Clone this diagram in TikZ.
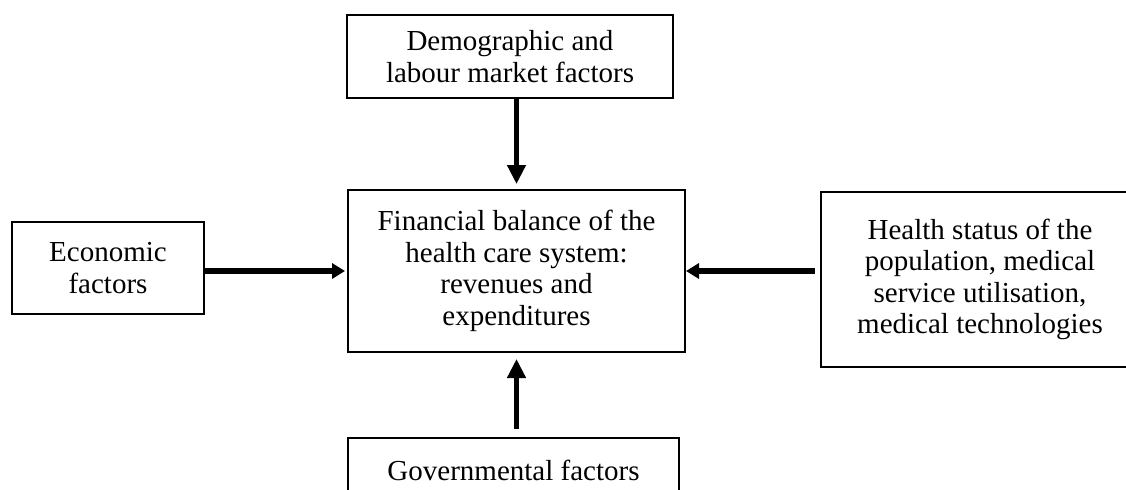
\documentclass[tikz,border=0pt]{standalone}
\usepackage{fontspec}
\setmainfont{Liberation Serif}
\usetikzlibrary{arrows.meta}

\begin{document}
\begin{tikzpicture}[x=0.5pt, y=-0.5pt,
		factorbox/.style={draw, line width=1pt, align=center, inner sep=0pt,
			font=\fontsize{14.5}{15.8}\selectfont},
		thinarrow/.style={line width=2.2pt, -{Triangle[length=9.5pt, width=9pt]}},
		thickarrow/.style={line width=3pt, -{Triangle[length=6.5pt, width=7.5pt]}}]
		
		% Frame of the picture
		\path[use as bounding box, clip] (0,0) rectangle (1126,489);
		
		% Central box
		\node[factorbox, minimum width=168.5pt, minimum height=81pt] (balance) at (516.5,271)
			{Financial balance of the\\ health care system:\\ revenues and\\ expenditures};
		
		% Factor boxes round it
		\node[factorbox, minimum width=163pt, minimum height=41.5pt] (demo) at (510,56.5)
			{Demographic and\\ labour market factors};
		\node[factorbox, minimum width=96pt, minimum height=46pt] (econ) at (108,268)
			{Economic\\ factors};
		\node[factorbox, minimum width=159pt, minimum height=87.5pt] (health) at (980,279.5)
			{Health status of the\\ population, medical\\ service utilisation,\\ medical technologies};
		\node[factorbox, minimum width=165.5pt, minimum height=32pt] (gov) at (513.5,470)
			{Governmental factors};
		
		% Ends of the arrows
		\coordinate (demobot) at (demo.south -| balance.center);
		\coordinate (govtop) at (gov.north -| balance.center);
		\coordinate (econout) at (econ.east |- balance.west);
		\coordinate (healthin) at (health.west |- balance.east);
		
		% Arrows into the central box
		\draw[thinarrow] (demobot) -- ([yshift=2.5pt]balance.north);
		\draw[thinarrow] ([yshift=4pt]govtop) -- ([yshift=-3pt]balance.south);
		\draw[thickarrow] (econout) -- ([xshift=-1pt]balance.west);
		\draw[thickarrow] ([xshift=-2.5pt]healthin) -- (balance.east);
	\end{tikzpicture}
\end{document}
